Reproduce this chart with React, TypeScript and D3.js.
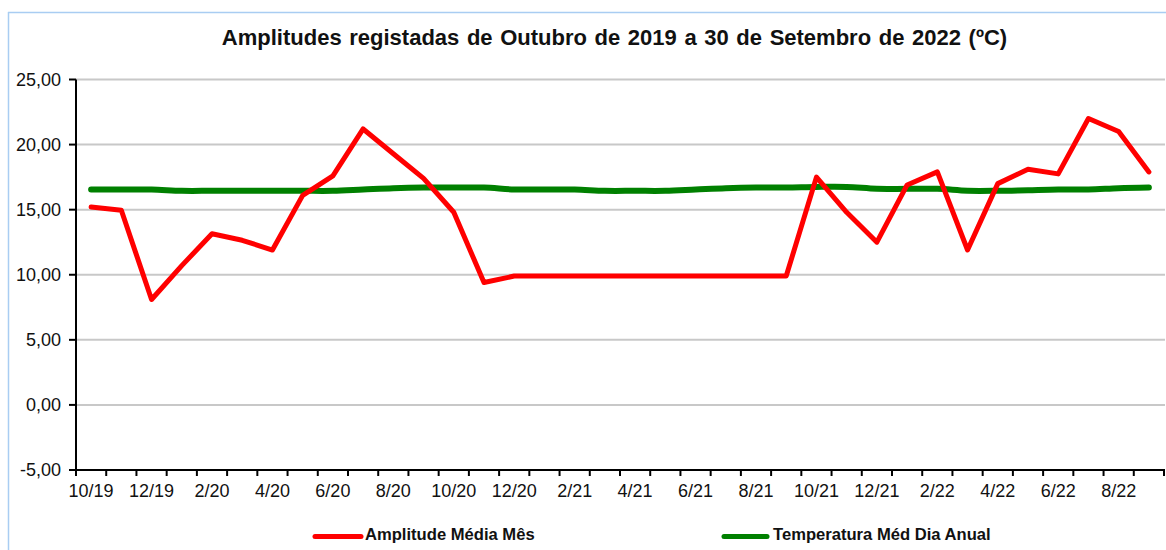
import React from "react";
import * as d3 from "d3";

const categories = [
  "10/19","11/19","12/19","1/20","2/20","3/20","4/20","5/20","6/20","7/20","8/20","9/20",
  "10/20","11/20","12/20","1/21","2/21","3/21","4/21","5/21","6/21","7/21","8/21","9/21",
  "10/21","11/21","12/21","1/22","2/22","3/22","4/22","5/22","6/22","7/22","8/22","9/22",
];

const amplitudeMediaMes = [
  15.2, 14.95, 8.1, 10.7, 13.15, 12.65, 11.9, 16.1, 17.6, 21.2, 19.3, 17.4,
  14.8, 9.4, 9.9, 9.9, 9.9, 9.9, 9.9, 9.9, 9.9, 9.9, 9.9, 9.9,
  17.5, 14.8, 12.5, 16.9, 17.9, 11.9, 17.0, 18.1, 17.75, 22.0, 21.0, 17.9,
];

const temperaturaMedDiaAnual = [
  16.55, 16.55, 16.55, 16.45, 16.45, 16.45, 16.45, 16.45, 16.45, 16.55, 16.65, 16.7,
  16.7, 16.7, 16.55, 16.55, 16.55, 16.45, 16.45, 16.45, 16.55, 16.65, 16.7, 16.7,
  16.75, 16.75, 16.6, 16.6, 16.6, 16.45, 16.45, 16.5, 16.55, 16.55, 16.65, 16.7,
];

const yTicks = [-5, 0, 5, 10, 15, 20, 25];
const tickLabels = categories.filter((_, i) => i % 2 === 0);

const title = "Amplitudes registadas de Outubro de 2019 a 30 de Setembro de 2022 (ºC)";
const seriesNames = ["Amplitude Média Mês", "Temperatura Méd Dia Anual"];

const W = 1166;
const H = 550;
const plotLeft = 76;
const plotRight = 1164;
const plotTop = 79.5;
const plotBottom = 470;
const FONT = "'Liberation Sans', Arial, sans-serif";

export default function App() {
  const xBand = d3.scaleBand<string>().domain(categories).range([plotLeft, plotRight]).padding(0);
  const xc = (i: number) => (xBand(categories[i]) as number) + xBand.bandwidth() / 2;
  const y = d3.scaleLinear().domain([-5, 25]).range([plotBottom, plotTop]);
  const fmt = (v: number) => v.toFixed(2).replace(".", ",");

  const redLine = d3
    .line<number>()
    .x((_, i) => xc(i))
    .y((d) => y(d))
    .curve(d3.curveLinear);
  const greenLine = d3
    .line<number>()
    .x((_, i) => xc(i))
    .y((d) => y(d))
    .curve(d3.curveCatmullRom.alpha(0.5));

  const boundaries = d3.range(categories.length + 1).map((i) =>
    i < categories.length ? (xBand(categories[i]) as number) : plotRight
  );

  return (
    <svg
      width={W}
      height={H}
      style={{ position: "absolute", left: 0, top: 0, background: "#fff" }}
      fontFamily={FONT}
    >
      <rect x={0} y={0} width={W} height={H} fill="#fff" />
      {/* outer chart border */}
      <line x1={8.5} y1={12} x2={8.5} y2={H} stroke="#a9cdf2" strokeWidth={1.5} />
      <line x1={8} y1={12.5} x2={W} y2={12.5} stroke="#a9cdf2" strokeWidth={1.5} />

      {/* title */}
      <text
        x={614.5}
        y={45}
        textAnchor="middle"
        fontSize={22}
        fontWeight="bold"
        fill="#111"
        style={{ wordSpacing: "1.5px" }}
      >
        {title}
      </text>

      {/* gridlines */}
      {yTicks
        .filter((t) => t > -5)
        .map((t) => (
          <line key={"g" + t} x1={plotLeft} x2={plotRight + 1} y1={y(t)} y2={y(t)} stroke="#c8c8c8" strokeWidth={2} />
        ))}

      {/* y axis */}
      <line x1={plotLeft} x2={plotLeft} y1={plotTop} y2={plotBottom + 6} stroke="#000" strokeWidth={2} />
      {yTicks.map((t) => (
        <g key={"y" + t}>
          <line x1={plotLeft - 7} x2={plotLeft} y1={y(t)} y2={y(t)} stroke="#000" strokeWidth={2} />
          <text x={61} y={y(t)} dy="0.35em" textAnchor="end" fontSize={18} fill="#111">
            {fmt(t)}
          </text>
        </g>
      ))}

      {/* x axis */}
      <line x1={plotLeft - 7} x2={plotRight + 1} y1={plotBottom} y2={plotBottom} stroke="#000" strokeWidth={2} />
      {boundaries.map((bx, i) => (
        <line key={"xt" + i} x1={bx} x2={bx} y1={plotBottom} y2={plotBottom + 6} stroke="#000" strokeWidth={2} />
      ))}
      {categories.map((c, i) =>
        tickLabels.includes(c) ? (
          <text key={"xl" + c} x={xc(i)} y={496.5} textAnchor="middle" fontSize={18} fill="#111">
            {c}
          </text>
        ) : null
      )}

      {/* series */}
      <path
        d={greenLine(temperaturaMedDiaAnual) || ""}
        fill="none"
        stroke="#008000"
        strokeWidth={6}
        strokeLinecap="round"
        strokeLinejoin="round"
      />
      <path
        d={redLine(amplitudeMediaMes) || ""}
        fill="none"
        stroke="#ff0000"
        strokeWidth={5}
        strokeLinecap="round"
        strokeLinejoin="round"
      />

      {/* legend */}
      <line x1={315} x2={361} y1={536.5} y2={536.5} stroke="#ff0000" strokeWidth={5} strokeLinecap="round" />
      <text x={365} y={540} fontSize={16.6} fontWeight="bold" fill="#111">
        {seriesNames[0]}
      </text>
      <line x1={724} x2={767} y1={536.5} y2={536.5} stroke="#008000" strokeWidth={5} strokeLinecap="round" />
      <text x={773} y={540} fontSize={16.6} fontWeight="bold" fill="#111">
        {seriesNames[1]}
      </text>
    </svg>
  );
}
